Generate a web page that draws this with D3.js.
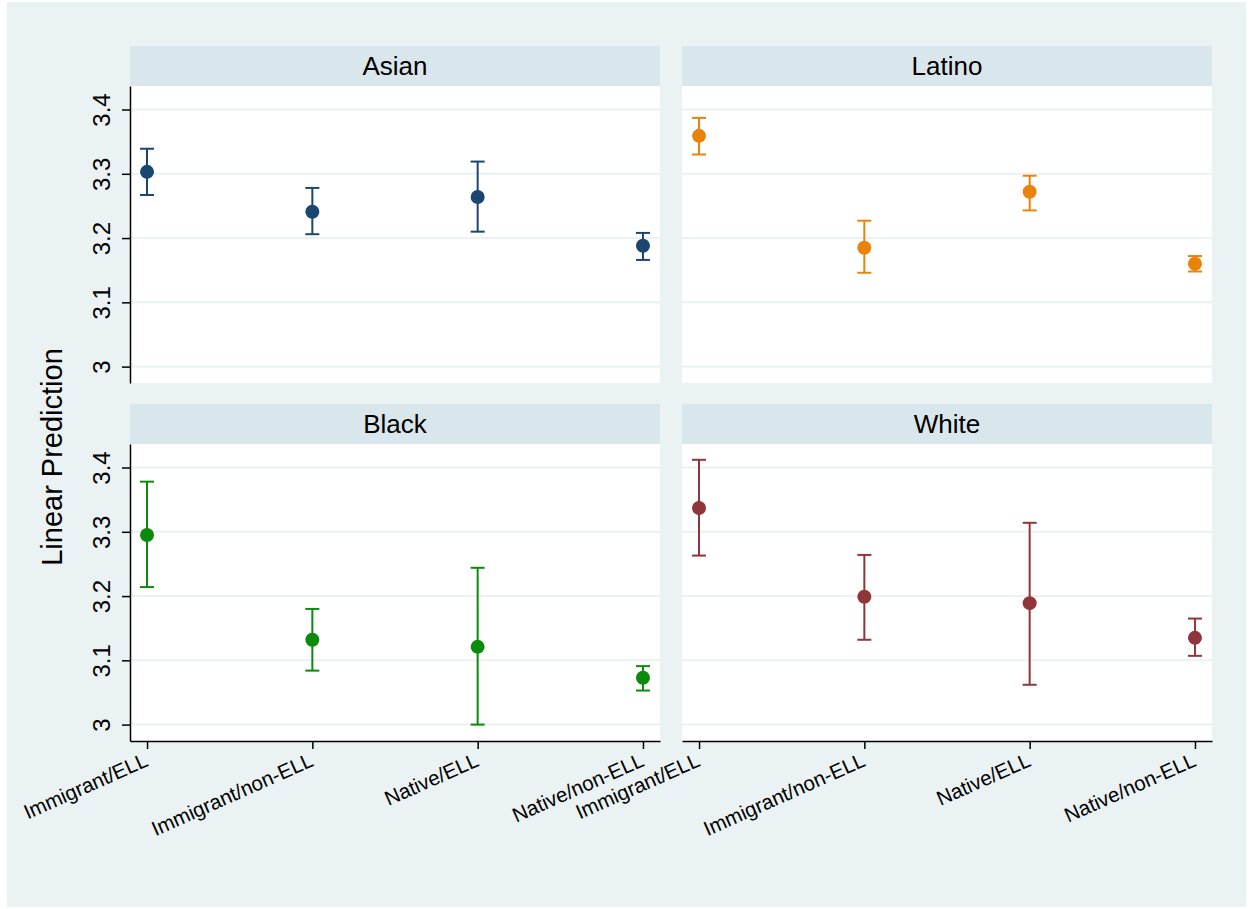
<!DOCTYPE html>
<html>
<head>
<meta charset="utf-8">
<script src="https://cdn.jsdelivr.net/npm/d3@7"></script>
<style>
  body { margin: 0; background: #fff; }
  text { font-family: "Liberation Sans", Arial, sans-serif; fill: #000; }
</style>
</head>
<body>
<div id="chart"></div>
<script>
// categories and tick values
var groups = ["Asian", "Latino", "Black", "White"]
var categories = ["Immigrant/ELL", "Immigrant/non-ELL", "Native/ELL", "Native/non-ELL"]
var yTicks = [3, 3.1, 3.2, 3.3, 3.4]

// point estimates and confidence bounds, one array per group
var asian_fit = [3.303, 3.241, 3.264, 3.188]
var asian_lo = [3.267, 3.206, 3.210, 3.166]
var asian_hi = [3.339, 3.278, 3.319, 3.208]

var latino_fit = [3.359, 3.185, 3.272, 3.160]
var latino_lo = [3.330, 3.146, 3.243, 3.148]
var latino_hi = [3.387, 3.227, 3.297, 3.172]

var black_fit = [3.295, 3.132, 3.121, 3.073]
var black_lo = [3.214, 3.084, 3.000, 3.053]
var black_hi = [3.378, 3.180, 3.244, 3.091]

var white_fit = [3.337, 3.199, 3.189, 3.135]
var white_lo = [3.263, 3.132, 3.062, 3.107]
var white_hi = [3.412, 3.264, 3.314, 3.165]

var colors = ["#1a476f", "#e8830c", "#0c8a0c", "#90353b"]

var WIDTH = 1253, HEIGHT = 909
var PANEL = {W: 530, H: 297, HEAD: 40}
var LEFTS = [130, 682], TOPS = [46, 404]

var svg = d3.select("#chart").append("svg")
  .attr("width", WIDTH)
  .attr("height", HEIGHT)

// outer background
svg.append("rect")
  .attr("x", 7).attr("y", 2)
  .attr("width", 1239).attr("height", 905)
  .attr("fill", "#eaf2f3")

var x = d3.scalePoint()
  .domain(categories)
  .range([0, PANEL.W])
  .padding(0.103)

var y = d3.scaleLinear()
  .domain([2.9745, 3.4366])
  .range([PANEL.H, 0])

var series = [
  {fit: asian_fit, lo: asian_lo, hi: asian_hi},
  {fit: latino_fit, lo: latino_lo, hi: latino_hi},
  {fit: black_fit, lo: black_lo, hi: black_hi},
  {fit: white_fit, lo: white_lo, hi: white_hi}
]

groups.forEach(function(name, i) {
  var col = i % 2, row = Math.floor(i / 2)
  var g = svg.append("g")
    .attr("transform", `translate(${LEFTS[col]}, ${TOPS[row]})`)

  // header strip
  g.append("rect")
    .attr("width", PANEL.W).attr("height", PANEL.HEAD)
    .attr("fill", "#d9e6eb")
  g.append("text")
    .attr("x", PANEL.W / 2).attr("y", PANEL.HEAD / 2)
    .attr("dy", "0.36em")
    .attr("text-anchor", "middle")
    .style("font-size", "26px")
    .text(name)

  var p = g.append("g").attr("transform", `translate(0, ${PANEL.HEAD})`)
  p.append("rect")
    .attr("width", PANEL.W).attr("height", PANEL.H)
    .attr("fill", "#fff")

  // gridlines
  p.selectAll(".grid").data(yTicks).enter().append("line")
    .attr("x1", 0).attr("x2", PANEL.W)
    .attr("y1", d => y(d)).attr("y2", d => y(d))
    .attr("stroke", "#eaf2f3").attr("stroke-width", 2)

  var s = series[i]
  var c = colors[i]
  var pts = categories.map((k, j) => ({k: k, fit: s.fit[j], lo: s.lo[j], hi: s.hi[j]}))

  var cap = 7
  var bars = p.selectAll(".ci").data(pts).enter().append("g")
  bars.append("line")
    .attr("x1", d => x(d.k)).attr("x2", d => x(d.k))
    .attr("y1", d => y(d.lo)).attr("y2", d => y(d.hi))
    .attr("stroke", c).attr("stroke-width", 2)
  bars.append("line")
    .attr("x1", d => x(d.k) - cap).attr("x2", d => x(d.k) + cap)
    .attr("y1", d => y(d.lo)).attr("y2", d => y(d.lo))
    .attr("stroke", c).attr("stroke-width", 2)
  bars.append("line")
    .attr("x1", d => x(d.k) - cap).attr("x2", d => x(d.k) + cap)
    .attr("y1", d => y(d.hi)).attr("y2", d => y(d.hi))
    .attr("stroke", c).attr("stroke-width", 2)
  bars.append("circle")
    .attr("cx", d => x(d.k)).attr("cy", d => y(d.fit))
    .attr("r", 7)
    .attr("fill", c)

  // y axis only on the left column
  if (col == 0) {
    var ya = p.append("g")
      .call(d3.axisLeft(y).tickValues(yTicks).tickSize(8).tickSizeOuter(0).tickFormat(d3.format("")))
    ya.select(".domain").attr("stroke", "#000").attr("stroke-width", 1.5)
    ya.selectAll(".tick line").attr("stroke", "#000").attr("stroke-width", 1.5)
    ya.selectAll(".tick text")
      .attr("x", null).attr("dy", null)
      .attr("transform", "translate(-20, 0) rotate(-90)")
      .attr("text-anchor", "middle")
      .style("font-size", "24px")
  }

  // x axis only on the bottom row
  if (row == 1) {
    var xa = p.append("g")
      .attr("transform", `translate(0, ${PANEL.H})`)
      .call(d3.axisBottom(x).tickSize(8).tickSizeOuter(0))
    xa.select(".domain").attr("stroke", "#000").attr("stroke-width", 1.5)
    xa.selectAll(".tick line").attr("stroke", "#000").attr("stroke-width", 1.5)
    xa.selectAll(".tick text")
      .attr("y", null).attr("dy", null)
      .attr("transform", "translate(-4, 11) rotate(-24)")
      .attr("dy", "0.71em")
      .attr("text-anchor", "end")
      .style("font-size", "20.5px")
  }
})

svg.selectAll(".tick text").style("fill", "#000").style("font-family", "'Liberation Sans', Arial, sans-serif")

// y axis title
svg.append("text")
  .attr("transform", "translate(62, 457) rotate(-90)")
  .attr("text-anchor", "middle")
  .style("font-size", "29px")
  .text("Linear Prediction")
</script>
</body>
</html>
